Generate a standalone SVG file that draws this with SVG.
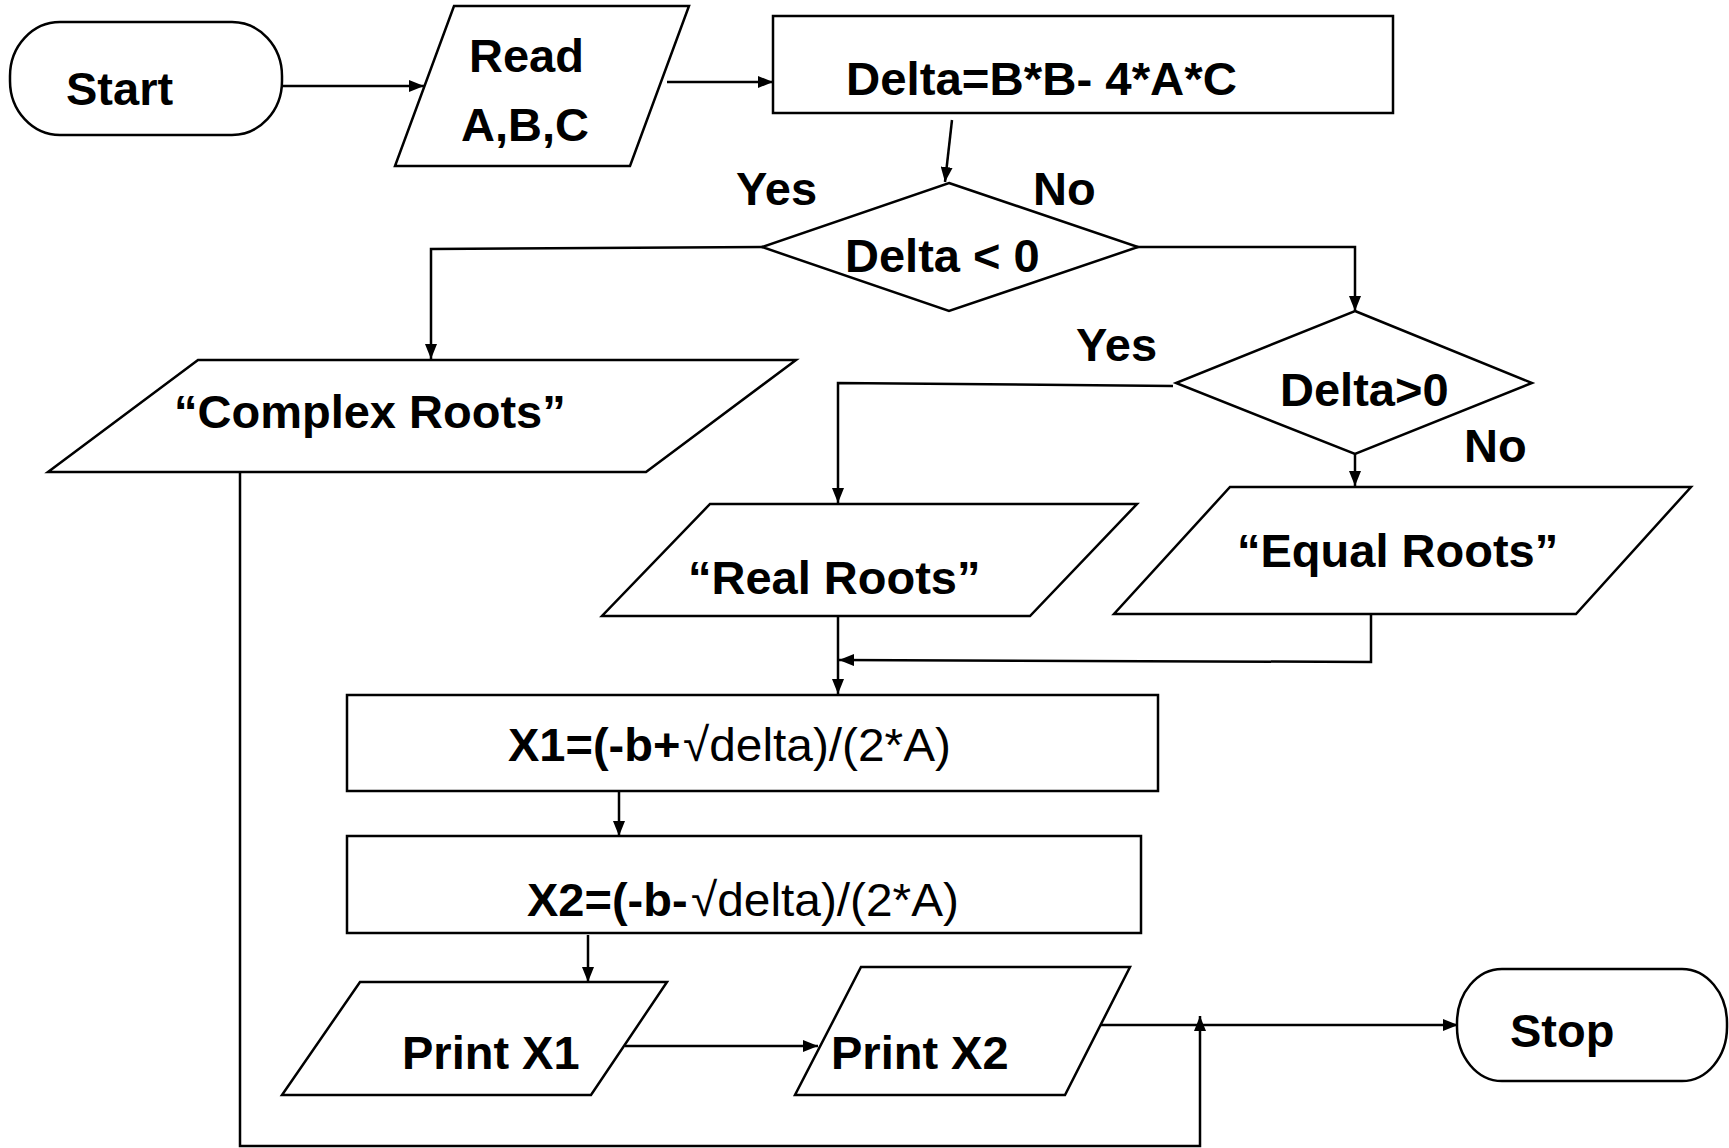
<svg xmlns="http://www.w3.org/2000/svg" width="1729" height="1148" viewBox="0 0 1729 1148">
  <defs>
    <style>
      .shape { fill: #ffffff; stroke: #000000; stroke-width: 2.5; stroke-linejoin: miter; }
      .conn { fill: none; stroke: #000000; stroke-width: 2.5; }
      text { font-family: "Liberation Sans", Arial, sans-serif; font-size: 47px; fill: #000000; }
      .b { font-weight: bold; }
      .r { font-weight: normal; }
    </style>
    <marker id="arrow" viewBox="0 0 15 12" refX="15" refY="6" markerWidth="15" markerHeight="12" markerUnits="userSpaceOnUse" orient="auto">
      <path d="M0,0 L15,6 L0,12 Z" fill="#000000"/>
    </marker>
  </defs>
  <rect width="1729" height="1148" fill="#ffffff"/>

  <!-- connectors -->
  <g id="connectors">
    <path class="conn" d="M283,86 H424" marker-end="url(#arrow)"/>
    <path class="conn" d="M667,82 H773" marker-end="url(#arrow)"/>
    <path class="conn" d="M952,120 L945,182" marker-end="url(#arrow)"/>
    <path class="conn" d="M763,247 L431,249 V359" marker-end="url(#arrow)"/>
    <path class="conn" d="M1118,247 H1355 V311" marker-end="url(#arrow)"/>
    <path class="conn" d="M1173,386 L838,383 V503" marker-end="url(#arrow)"/>
    <path class="conn" d="M1355,454 V486" marker-end="url(#arrow)"/>
    <path class="conn" d="M240,472 V1146 H1200 V1016" marker-end="url(#arrow)"/>
    <path class="conn" d="M838,616 V694" marker-end="url(#arrow)"/>
    <path class="conn" d="M1371,614 V662 L839,660" marker-end="url(#arrow)"/>
    <path class="conn" d="M619,791 V836" marker-end="url(#arrow)"/>
    <path class="conn" d="M588,935 V982" marker-end="url(#arrow)"/>
    <path class="conn" d="M625,1046 H818" marker-end="url(#arrow)"/>
    <path class="conn" d="M1094,1025 H1458" marker-end="url(#arrow)"/>
  </g>

  <!-- start terminal -->
  <g id="start">
    <rect class="shape" x="10" y="22" width="272" height="113" rx="50" ry="54"/>
    <text class="b" x="66" y="105">Start</text>
  </g>

  <!-- input -->
  <g id="read">
    <polygon class="shape" points="454,6 689,6 630,166 395,166"/>
    <text class="b" x="469" y="72">Read</text>
    <text class="b" x="461" y="141">A,B,C</text>
  </g>

  <!-- discriminant -->
  <g id="delta">
    <rect class="shape" x="773" y="16" width="620" height="97"/>
    <text class="b" x="846" y="95" textLength="391" lengthAdjust="spacingAndGlyphs">Delta=B*B- 4*A*C</text>
  </g>

  <!-- first decision -->
  <g id="delta-lt-0">
    <polygon class="shape" points="949,183 1138,247 949,311 762,247"/>
    <text class="b" x="845" y="272">Delta &lt; 0</text>
  </g>
  <text class="b" x="736" y="205">Yes</text>
  <text class="b" x="1033" y="205">No</text>

  <!-- second decision -->
  <g id="delta-gt-0">
    <polygon class="shape" points="1355,311 1532,383 1355,454 1176,383"/>
    <text class="b" x="1280" y="406">Delta&gt;0</text>
  </g>
  <text class="b" x="1076" y="361">Yes</text>
  <text class="b" x="1464" y="462">No</text>

  <!-- outputs -->
  <g id="complex-roots">
    <polygon class="shape" points="198,360 796,360 646,472 48,472"/>
    <text class="b" x="174" y="428">“Complex Roots”</text>
  </g>
  <g id="real-roots">
    <polygon class="shape" points="710,504 1137,504 1030,616 602,616"/>
    <text class="b" x="688" y="594">“Real Roots”</text>
  </g>
  <g id="equal-roots">
    <polygon class="shape" points="1230,487 1691,487 1576,614 1114,614"/>
    <text class="b" x="1237" y="567">“Equal Roots”</text>
  </g>

  <!-- roots -->
  <g id="x1">
    <rect class="shape" x="347" y="695" width="811" height="96"/>
    <text y="761"><tspan class="b" x="508">X1=(-b+</tspan><tspan class="r" x="683" textLength="268" lengthAdjust="spacingAndGlyphs">√delta)/(2*A)</tspan></text>
  </g>
  <g id="x2">
    <rect class="shape" x="347" y="836" width="794" height="97"/>
    <text y="916"><tspan class="b" x="527">X2=(-b-</tspan><tspan class="r" x="691" textLength="268" lengthAdjust="spacingAndGlyphs">√delta)/(2*A)</tspan></text>
  </g>

  <!-- printing -->
  <g id="print-x1">
    <polygon class="shape" points="360,982 667,982 591,1095 282,1095"/>
    <text class="b" x="402" y="1069">Print X1</text>
  </g>
  <g id="print-x2">
    <polygon class="shape" points="861,967 1130,967 1065,1095 795,1095"/>
    <text class="b" x="831" y="1069">Print X2</text>
  </g>

  <!-- stop terminal -->
  <g id="stop">
    <rect class="shape" x="1457" y="969" width="270" height="112" rx="45" ry="54"/>
    <text class="b" x="1510" y="1047">Stop</text>
  </g>
</svg>
